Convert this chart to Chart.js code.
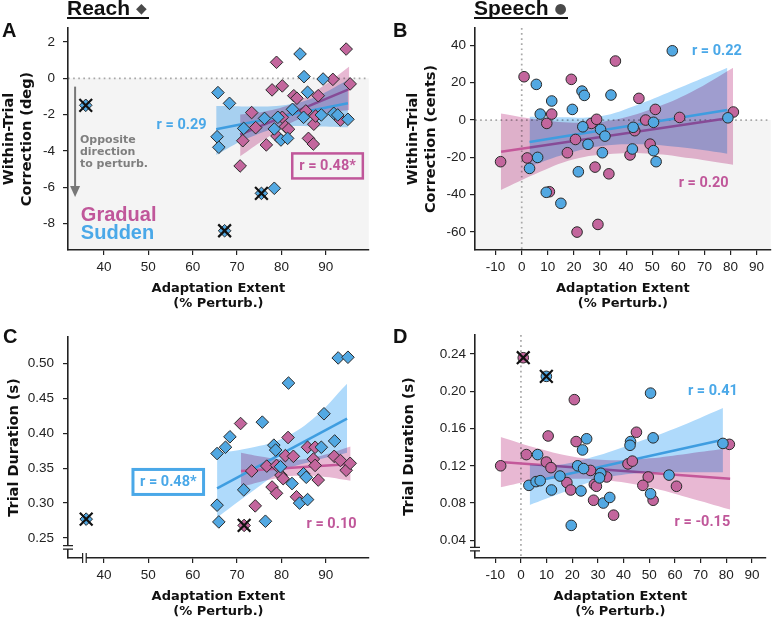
<!DOCTYPE html>
<html>
<head>
<meta charset="utf-8">
<script src="https://cdn.jsdelivr.net/npm/chart.js@4.4.1/dist/chart.umd.min.js"></script>
<style>
  body { margin: 0; background: #fff; }
  #fig { position: relative; width: 777px; height: 623px; overflow: hidden; }
  canvas { position: absolute; }
  .hdr { position: absolute; font: bold 21px "Liberation Sans", Arial, sans-serif; color: #111; line-height: 20px; white-space: nowrap; }
  .hdr span { font-family: "DejaVu Sans", sans-serif; color: #4a4a4a; font-size: 14px; vertical-align: 2px; }
  .ul { position: absolute; height: 2px; background: #111; }
  .tag { position: absolute; font: bold 20px "Liberation Sans", Arial, sans-serif; color: #111; line-height: 20px; }
</style>
</head>
<body>
<div id="fig">
  <canvas id="cA" width="380" height="315" style="left:0;top:0"></canvas>
  <canvas id="cB" width="382" height="315" style="left:395px;top:0"></canvas>
  <canvas id="cC" width="380" height="308" style="left:0;top:315px"></canvas>
  <canvas id="cD" width="382" height="308" style="left:395px;top:315px"></canvas>
  <div class="hdr" style="left:67px;top:-2px">Reach <span>◆</span></div>
  <div class="ul" style="left:67px;top:17px;width:82px"></div>
  <div class="hdr" style="left:474px;top:-2px">Speech <span>●</span></div>
  <div class="ul" style="left:474px;top:17px;width:94px"></div>
  <div class="tag" style="left:2px;top:20px">A</div>
  <div class="tag" style="left:393px;top:20px">B</div>
  <div class="tag" style="left:3px;top:326px">C</div>
  <div class="tag" style="left:393px;top:326px">D</div>
</div>
<script>
// ---- tick values ----------------------------------------------------------
const reachXTicks = [40, 50, 60, 70, 80, 90];
const speechXTicks = [-10, 0, 10, 20, 30, 40, 50, 60, 70, 80, 90];
const aYTicks = [-8, -6, -4, -2, 0, 2];
const bYTicks = [-60, -40, -20, 0, 20, 40];
const cYTicks = [0.25, 0.30, 0.35, 0.40, 0.45, 0.50];
const dYTicks = [0.04, 0.08, 0.12, 0.16, 0.20, 0.24];

// ---- A: reach, within-trial correction (deg) ------------------------------
const aSuddenX = [65.7, 68.3, 65.5, 65.9, 71.5, 76.2, 79.2, 78.4, 79.9, 81.4, 82.5, 84.2, 85.1, 85.0, 85.9, 89.0, 89.4, 91.8, 92.7, 95.0, 78.4];
const aSuddenY = [-0.79, -1.38, -3.22, -3.80, -2.76, -2.21, -2.15, -2.79, -3.40, -3.31, -1.71, 1.34, 0.09, -2.15, -0.77, -2.02, -0.04, -1.93, -2.02, -2.26, -6.06];
const aSuddenOutX = [35.9, 75.5, 67.2];
const aSuddenOutY = [-1.49, -6.34, -8.40];
const aGradualX = [78.9, 77.9, 80.2, 82.8, 83.5, 88.3, 91.6, 94.6, 95.5, 73.3, 74.2, 71.3, 76.6, 70.7, 79.0, 80.2, 80.9, 81.6, 85.5, 86.1, 87.2, 87.3, 87.7, 93.3];
const aGradualY = [0.88, -0.64, -0.42, -0.96, -1.10, -0.96, -0.06, 1.61, -0.31, -1.89, -2.72, -3.44, -3.67, -4.83, -3.18, -2.15, -2.66, -2.81, -1.80, -3.31, -3.62, -2.53, -2.08, -2.30];
const aGradualOutX = [];
const aGradualOutY = [];
const aSuddenFitX = [65.3, 95.0];
const aSuddenFitY = [-2.81, -1.38];
const aGradualFitX = [70.7, 95.3];
const aGradualFitY = [-3.1, -0.6];
const aSuddenCiX = [65.3, 72, 80, 87, 95];
const aSuddenCiHi = [-1.53, -1.55, -1.5, -1.1, -0.1];
const aSuddenCiLo = [-4.23, -3.35, -2.7, -2.65, -2.7];
const aGradualCiX = [70.7, 76, 83, 89, 95.3];
const aGradualCiHi = [-2.0, -1.85, -1.35, -0.5, 0.65];
const aGradualCiLo = [-4.3, -3.4, -2.35, -1.95, -1.75];

// ---- B: speech, within-trial correction (cents) ---------------------------
const bSuddenX = [5.6, 11.5, 7.1, 19.4, 23.1, 24.0, 23.4, 30.2, 31.9, 25.4, 30.9, 6.1, 3.0, 21.7, 9.4, 15.0, 34.2, 57.7, 42.7, 50.5, 42.4, 50.5, 51.5, 79.0];
const bSuddenY = [19.1, 10.2, 3.2, 5.7, 15.5, 13.2, -3.6, -5.0, -8.6, -13.0, -17.5, -20.0, -25.9, -27.7, -38.7, -44.6, 13.4, 37.1, -3.9, -1.2, -15.5, -16.4, -22.3, 1.2];
const bGradualX = [-8.1, 0.9, 2.1, 9.6, 11.5, 10.6, 19.0, 17.5, 20.6, 21.2, 26.7, 28.7, 29.2, 28.1, 33.4, 35.9, 44.9, 51.2, 47.5, 43.3, 49.2, 41.5, 60.5, 81.1];
const bGradualY = [-22.3, 23.2, -20.3, -1.8, 3.2, -38.4, 21.8, -17.5, -10.4, -60.0, -1.8, 0.4, -55.9, -25.2, -28.8, 31.6, 11.6, 5.7, 0.0, -5.7, -12.9, -18.7, 1.4, 4.3];
const bSuddenFitX = [3.0, 78.8];
const bSuddenFitY = [-11.8, 5.4];
const bGradualFitX = [-7.9, 80.9];
const bGradualFitY = [-17.0, 1.4];
const bSuddenCiX = [3, 15, 30, 45, 60, 78.8];
const bSuddenCiHi = [1.8, 1.5, 2, 8.5, 17, 28];
const bSuddenCiLo = [-25, -19, -14, -13, -14.5, -18];
const bGradualCiX = [-8, 5, 20, 35, 50, 65, 81];
const bGradualCiHi = [3.5, 0.5, -1.5, 0, 6, 15, 28];
const bGradualCiLo = [-37.5, -29, -21, -18, -18, -20.5, -24];

// ---- C: reach, trial duration (s) ------------------------------------------
const cSuddenX = [65.5, 67.4, 68.4, 65.5, 65.9, 71.5, 75.7, 76.4, 78.3, 78.7, 79.8, 81.6, 82.4, 84.1, 85.0, 85.6, 85.9, 89.0, 89.6, 92.0, 92.8, 95.0];
const cSuddenY = [0.371, 0.380, 0.395, 0.297, 0.273, 0.319, 0.416, 0.274, 0.383, 0.376, 0.352, 0.472, 0.328, 0.300, 0.342, 0.337, 0.305, 0.380, 0.428, 0.389, 0.508, 0.509];
const cSuddenOutX = [36.0];
const cSuddenOutY = [0.277];
const cGradualX = [70.8, 73.3, 74.1, 76.7, 77.9, 78.9, 78.9, 79.9, 80.4, 80.9, 81.5, 82.7, 83.4, 85.9, 87.2, 87.6, 87.6, 88.3, 91.9, 93.3, 94.6, 95.5];
const cGradualY = [0.414, 0.346, 0.296, 0.353, 0.323, 0.314, 0.354, 0.340, 0.335, 0.368, 0.394, 0.367, 0.309, 0.380, 0.363, 0.380, 0.354, 0.333, 0.367, 0.361, 0.347, 0.357];
const cGradualOutX = [71.6];
const cGradualOutY = [0.268];
const cSuddenFitX = [65.5, 94.8];
const cSuddenFitY = [0.321, 0.421];
const cGradualFitX = [70.9, 95.6];
const cGradualFitY = [0.346, 0.356];
const cSuddenCiX = [65.5, 72, 80, 87, 94.8];
const cSuddenCiHi = [0.372, 0.378, 0.392, 0.420, 0.471];
const cSuddenCiLo = [0.279, 0.310, 0.345, 0.360, 0.372];
const cGradualCiX = [70.9, 77, 83, 89, 95.6];
const cGradualCiHi = [0.372, 0.365, 0.362, 0.368, 0.381];
const cGradualCiLo = [0.323, 0.333, 0.339, 0.338, 0.332];

// ---- D: speech, trial duration (s) -----------------------------------------
const dSuddenX = [6.5, 3.1, 5.9, 7.5, 11.9, 15.2, 25.6, 24.0, 22.1, 24.4, 23.4, 19.6, 31.1, 30.6, 32.1, 34.6, 50.5, 42.7, 42.5, 51.5, 57.7, 50.5, 78.7];
const dSuddenY = [0.132, 0.099, 0.103, 0.104, 0.094, 0.109, 0.149, 0.137, 0.120, 0.117, 0.093, 0.056, 0.112, 0.107, 0.080, 0.086, 0.198, 0.146, 0.142, 0.150, 0.110, 0.090, 0.144];
const dSuddenOutX = [9.9];
const dSuddenOutY = [0.216];
const dGradualX = [-7.9, 2.1, 10.6, 20.8, 21.5, 9.9, 11.7, 17.9, 19.4, 27.1, 28.6, 29.4, 28.3, 33.4, 36.1, 45.0, 41.7, 43.4, 49.6, 47.5, 51.5, 60.6, 81.2];
const dGradualY = [0.120, 0.132, 0.152, 0.191, 0.146, 0.124, 0.118, 0.102, 0.094, 0.115, 0.100, 0.098, 0.083, 0.108, 0.067, 0.156, 0.122, 0.125, 0.108, 0.099, 0.083, 0.098, 0.143];
const dGradualOutX = [0.9];
const dGradualOutY = [0.236];
const dSuddenFitX = [3.4, 78.7];
const dSuddenFitY = [0.102, 0.148];
const dGradualFitX = [-7.9, 81.5];
const dGradualFitY = [0.124, 0.106];
const dSuddenCiX = [3.4, 15, 30, 45, 60, 78.7];
const dSuddenCiHi = [0.121, 0.121, 0.131, 0.145, 0.160, 0.182];
const dSuddenCiLo = [0.078, 0.090, 0.105, 0.112, 0.113, 0.113];
const dGradualCiX = [-7.9, 5, 20, 35, 50, 65, 81.5];
const dGradualCiHi = [0.151, 0.140, 0.130, 0.126, 0.128, 0.133, 0.139];
const dGradualCiLo = [0.097, 0.104, 0.106, 0.104, 0.097, 0.086, 0.073];

// ---- colours ---------------------------------------------------------------
const BLUE = "#52a8e2", PINK = "#c3669d";
const BLUE_TXT = "#4aa8e8", PINK_TXT = "#c0579a";
const BLUE_LINE = "#3f9de0", PINK_LINE = "#c4589a";
const BLUE_CI = "#afdafb", PINK_CI = "#e8b8d3";
const RFONT = "bold 14.5px Roboto, 'Liberation Sans', sans-serif";

const zip = (xs, ys) => xs.map((x, i) => ({ x, y: ys[i] }));

function pointsSet(xs, ys, color, style, radius, order) {
  return {
    type: "scatter", data: zip(xs, ys), order,
    pointStyle: style, pointRadius: radius,
    pointBackgroundColor: color, pointBorderColor: "#2a2a2a", pointBorderWidth: 1,
  };
}
function crossSet(xs, ys) {
  return {
    type: "scatter", data: zip(xs, ys), order: 0,
    pointStyle: "crossRot", pointRadius: 9,
    pointBorderColor: "#111", pointBorderWidth: 2.2,
  };
}
function fitSet(xs, ys, color, order) {
  return {
    type: "line", data: zip(xs, ys), order,
    borderColor: color, borderWidth: 2.5, pointRadius: 0, fill: false,
  };
}
function bandSets(xs, hi, lo, color, order) {
  const common = { type: "line", order, band: true, pointRadius: 0, borderColor: "rgba(0,0,0,0)", tension: 0.4 };
  return [
    { ...common, data: zip(xs, hi), fill: "+1", backgroundColor: color },
    { ...common, data: zip(xs, lo), fill: false },
  ];
}

// CI bands are multiplied onto what is below them, the way the overlap reads
function setBlend(chart, meta) {
  const ds = meta && chart.data.datasets[meta.index];
  chart.ctx.globalCompositeOperation = ds && ds.band ? "multiply" : "source-over";
}
const blendPlugin = {
  id: "blend",
  beforeDatasetsDraw(chart) {
    const metas = chart.getSortedVisibleDatasetMetas();
    setBlend(chart, metas[metas.length - 1]);
  },
  afterDatasetDraw(chart, args) {
    const metas = chart.getSortedVisibleDatasetMetas();
    const i = metas.indexOf(args.meta);
    setBlend(chart, i > 0 ? metas[i - 1] : null);
  },
  afterDatasetsDraw(chart) {
    chart.ctx.globalCompositeOperation = "source-over";
  },
};

function decorPlugin(d) {
  return {
    id: "decor",
    beforeDraw(chart) {
      const { ctx, chartArea: a, scales: { x, y } } = chart;
      ctx.save();
      if (d.shade) {
        const y0 = y.getPixelForValue(0);
        ctx.fillStyle = "#f4f4f4";
        ctx.fillRect(a.left, y0, a.right - a.left, a.bottom - y0);
      }
      ctx.strokeStyle = "#a8a8a8";
      ctx.lineWidth = 1.7;
      ctx.setLineDash([1.7, 3.4]);
      if (d.zeroH) {
        const y0 = y.getPixelForValue(0);
        ctx.beginPath(); ctx.moveTo(a.left, y0); ctx.lineTo(a.right, y0); ctx.stroke();
      }
      if (d.zeroV) {
        const x0 = x.getPixelForValue(0);
        ctx.beginPath(); ctx.moveTo(x0, a.top); ctx.lineTo(x0, a.bottom); ctx.stroke();
      }
      ctx.restore();
    },
    afterDraw(chart) {
      const { ctx, chartArea: a, scales: { x, y } } = chart;
      ctx.save();
      // axis breaks
      ctx.strokeStyle = "#222";
      ctx.lineWidth = 1.2;
      if (d.yBreak != null) {
        const py = y.getPixelForValue(d.yBreak);
        ctx.fillStyle = "#fff";
        ctx.fillRect(a.left - 2, py - 1.6, 4, 3.2);
        ctx.beginPath();
        ctx.moveTo(a.left - 5, py - 1.8); ctx.lineTo(a.left + 5, py - 1.8);
        ctx.moveTo(a.left - 5, py + 1.8); ctx.lineTo(a.left + 5, py + 1.8);
        ctx.stroke();
      }
      if (d.xBreak != null) {
        const px = x.getPixelForValue(d.xBreak);
        ctx.fillStyle = "#fff";
        ctx.fillRect(px - 1.6, a.bottom - 2, 3.2, 4);
        ctx.beginPath();
        ctx.moveTo(px - 1.8, a.bottom - 5); ctx.lineTo(px - 1.8, a.bottom + 5);
        ctx.moveTo(px + 1.8, a.bottom - 5); ctx.lineTo(px + 1.8, a.bottom + 5);
        ctx.stroke();
      }
      // arrow
      if (d.arrow) {
        const px = x.getPixelForValue(d.arrow.x);
        const p1 = y.getPixelForValue(d.arrow.from), p2 = y.getPixelForValue(d.arrow.to);
        ctx.strokeStyle = ctx.fillStyle = "#777";
        ctx.lineWidth = 2;
        ctx.beginPath(); ctx.moveTo(px, p1); ctx.lineTo(px, p2 - 9); ctx.stroke();
        ctx.beginPath(); ctx.moveTo(px - 5, p2 - 11); ctx.lineTo(px + 5, p2 - 11); ctx.lineTo(px, p2); ctx.closePath(); ctx.fill();
      }
      // text labels
      (d.texts || []).forEach((t) => {
        const px = x.getPixelForValue(t.x), py = y.getPixelForValue(t.y);
        ctx.font = t.font || RFONT;
        ctx.fillStyle = t.color;
        ctx.textAlign = t.align || "center";
        ctx.textBaseline = "middle";
        ctx.fillText(t.text, px, py + 0.5);
        if (t.box) {
          const w = ctx.measureText(t.text).width;
          ctx.strokeStyle = t.color;
          ctx.lineWidth = t.box;
          ctx.strokeRect(px - w / 2 - 7, py - 12, w + 14, 25);
        }
      });
      ctx.restore();
    },
  };
}

function makePanel(id, p) {
  const xTitle = ["Adaptation Extent", "(% Perturb.)"];
  const datasets = [
    crossSet(p.sOut[0], p.sOut[1]),
    crossSet(p.gOut[0], p.gOut[1]),
    pointsSet(p.sOut[0], p.sOut[1], BLUE, p.marker, p.radius, 1),
    pointsSet(p.gOut[0], p.gOut[1], PINK, p.marker, p.radius, 1),
    pointsSet(p.s[0], p.s[1], BLUE, p.marker, p.radius, 2),
    pointsSet(p.g[0], p.g[1], PINK, p.marker, p.radius, 3),
    fitSet(p.sFit[0], p.sFit[1], BLUE_LINE, 4),
    ...bandSets(p.sCi[0], p.sCi[1], p.sCi[2], BLUE_CI, p.linesOnTop ? 7 : 5),
    fitSet(p.gFit[0], p.gFit[1], PINK_LINE, p.linesOnTop ? 5 : 6),
    ...bandSets(p.gCi[0], p.gCi[1], p.gCi[2], PINK_CI, p.linesOnTop ? 6 : 7),
  ];
  const axisFont = { family: "'Liberation Sans', Arial, sans-serif", size: 13.5 };
  const titleFont = (size, lh) => ({ family: "'DejaVu Sans', Verdana, sans-serif", weight: "bold", size, lineHeight: lh });
  return new Chart(document.getElementById(id), {
    type: "scatter",
    data: { datasets },
    options: {
      responsive: false,
      devicePixelRatio: 1,
      animation: false,
      events: [],
      layout: { padding: { left: 0, top: p.padTop, right: p.padRight, bottom: 0 } },
      plugins: { legend: { display: false }, tooltip: { enabled: false } },
      scales: {
        x: {
          type: "linear", min: p.xMin, max: p.xMax,
          afterBuildTicks: (s) => { s.ticks = p.xTicks.map((v) => ({ value: v })); },
          afterFit: (s) => { s.height = 65; },
          grid: { display: true, drawOnChartArea: false, drawTicks: true, tickLength: 5, color: "#222", lineWidth: 1.2 },
          border: { display: true, color: "#222", width: 1.6 },
          ticks: { autoSkip: false, maxRotation: 0, padding: 4, color: "#222", font: axisFont, callback: (v) => String(v) },
          title: { display: true, text: xTitle, color: "#111", font: titleFont(13, 15 / 13), padding: { top: 0, bottom: 3.5 } },
        },
        y: {
          type: "linear", min: p.yMin, max: p.yMax,
          afterBuildTicks: (s) => { s.ticks = p.yTicks.map((v) => ({ value: v })); },
          afterFit: (s) => { s.width = p.yWidth; },
          grid: { display: true, drawOnChartArea: false, drawTicks: true, tickLength: 5, color: "#222", lineWidth: 1.2 },
          border: { display: true, color: "#222", width: 1.6 },
          ticks: { autoSkip: false, padding: p.yTickPad, color: "#222", font: axisFont, callback: (v) => (p.yDigits ? v.toFixed(p.yDigits) : String(v)) },
          title: { display: true, text: p.yTitle, color: "#111", font: titleFont(14.5, 18 / 14.5), padding: { top: p.yTitlePad, bottom: 0 } },
        },
      },
    },
    plugins: [blendPlugin, decorPlugin(p.decor)],
  });
}

makePanel("cA", {
  xMin: 31.9, xMax: 99.7, xTicks: reachXTicks,
  yMin: -9.46, yMax: 2.77, yTicks: aYTicks, yDigits: 0,
  yTitle: ["Within-Trial", "Correction (deg)"], yWidth: 68, yTitlePad: 0, yTickPad: 8,
  padTop: 28, padRight: 7, marker: "rectRot", radius: 6.3,
  s: [aSuddenX, aSuddenY], g: [aGradualX, aGradualY],
  sOut: [aSuddenOutX, aSuddenOutY], gOut: [aGradualOutX, aGradualOutY],
  sFit: [aSuddenFitX, aSuddenFitY], gFit: [aGradualFitX, aGradualFitY],
  sCi: [aSuddenCiX, aSuddenCiHi, aSuddenCiLo], gCi: [aGradualCiX, aGradualCiHi, aGradualCiLo],
  decor: {
    shade: true, zeroH: true,
    arrow: { x: 33.5, from: -0.46, to: -6.54 },
    texts: [
      { text: "r = 0.29", x: 57.5, y: -2.58, color: BLUE_TXT },
      { text: "r = 0.48*", x: 90.4, y: -4.80, color: PINK_TXT, box: 2.5 },
      { text: "Opposite", x: 34.6, y: -3.40, align: "left", color: "#7f7f7f", font: "bold 11px 'DejaVu Sans', sans-serif" },
      { text: "direction", x: 34.6, y: -4.06, align: "left", color: "#7f7f7f", font: "bold 11px 'DejaVu Sans', sans-serif" },
      { text: "to perturb.", x: 34.6, y: -4.70, align: "left", color: "#7f7f7f", font: "bold 11px 'DejaVu Sans', sans-serif" },
      { text: "Gradual", x: 34.8, y: -7.53, align: "left", color: PINK_TXT, font: "bold 20px 'Liberation Sans', Arial, sans-serif" },
      { text: "Sudden", x: 34.8, y: -8.52, align: "left", color: BLUE_TXT, font: "bold 20px 'Liberation Sans', Arial, sans-serif" },
    ],
  },
});

makePanel("cB", {
  xMin: -17.9, xMax: 95.4, xTicks: speechXTicks,
  yMin: -69.6, yMax: 49.3, yTicks: bYTicks, yDigits: 0,
  yTitle: ["Within-Trial", "Correction (cents)"], yWidth: 80, yTitlePad: 9, yTickPad: 4,
  padTop: 28, padRight: 0, marker: "circle", radius: 5.3,
  s: [bSuddenX, bSuddenY], g: [bGradualX, bGradualY],
  sOut: [[], []], gOut: [[], []],
  sFit: [bSuddenFitX, bSuddenFitY], gFit: [bGradualFitX, bGradualFitY],
  sCi: [bSuddenCiX, bSuddenCiHi, bSuddenCiLo], gCi: [bGradualCiX, bGradualCiHi, bGradualCiLo],
  decor: {
    shade: true, zeroH: true, zeroV: true,
    texts: [
      { text: "r = 0.22", x: 74.8, y: 37.1, color: BLUE_TXT },
      { text: "r = 0.20", x: 69.7, y: -33.6, color: PINK_TXT },
    ],
  },
});

makePanel("cC", {
  xMin: 31.9, xMax: 99.7, xTicks: reachXTicks,
  yMin: 0.2213, yMax: 0.538, yTicks: cYTicks, yDigits: 2,
  yTitle: "Trial Duration (s)", yWidth: 68, yTitlePad: 5, yTickPad: 9,
  padTop: 22, padRight: 7, marker: "rectRot", radius: 6.3, linesOnTop: true,
  s: [cSuddenX, cSuddenY], g: [cGradualX, cGradualY],
  sOut: [cSuddenOutX, cSuddenOutY], gOut: [cGradualOutX, cGradualOutY],
  sFit: [cSuddenFitX, cSuddenFitY], gFit: [cGradualFitX, cGradualFitY],
  sCi: [cSuddenCiX, cSuddenCiHi, cSuddenCiLo], gCi: [cGradualCiX, cGradualCiHi, cGradualCiLo],
  decor: {
    yBreak: 0.2365, xBreak: 35.6,
    texts: [
      { text: "r = 0.48*", x: 54.5, y: 0.331, color: BLUE_TXT, box: 3 },
      { text: "r = 0.10", x: 91.3, y: 0.2696, color: PINK_TXT },
    ],
  },
});

makePanel("cD", {
  xMin: -17.9, xMax: 95.4, xTicks: speechXTicks,
  yMin: 0.021, yMax: 0.2604, yTicks: dYTicks, yDigits: 2,
  yTitle: "Trial Duration (s)", yWidth: 80, yTitlePad: 5, yTickPad: 4,
  padTop: 20, padRight: 0, marker: "circle", radius: 5.3,
  s: [dSuddenX, dSuddenY], g: [dGradualX, dGradualY],
  sOut: [dSuddenOutX, dSuddenOutY], gOut: [dGradualOutX, dGradualOutY],
  sFit: [dSuddenFitX, dSuddenFitY], gFit: [dGradualFitX, dGradualFitY],
  sCi: [dSuddenCiX, dSuddenCiHi, dSuddenCiLo], gCi: [dGradualCiX, dGradualCiHi, dGradualCiLo],
  decor: {
    zeroV: true, yBreak: 0.0305,
    texts: [
      { text: "r = 0.41", x: 74.8, y: 0.200, color: BLUE_TXT },
      { text: "r = -0.15", x: 70.7, y: 0.0597, color: PINK_TXT },
    ],
  },
});
</script>
</body>
</html>
